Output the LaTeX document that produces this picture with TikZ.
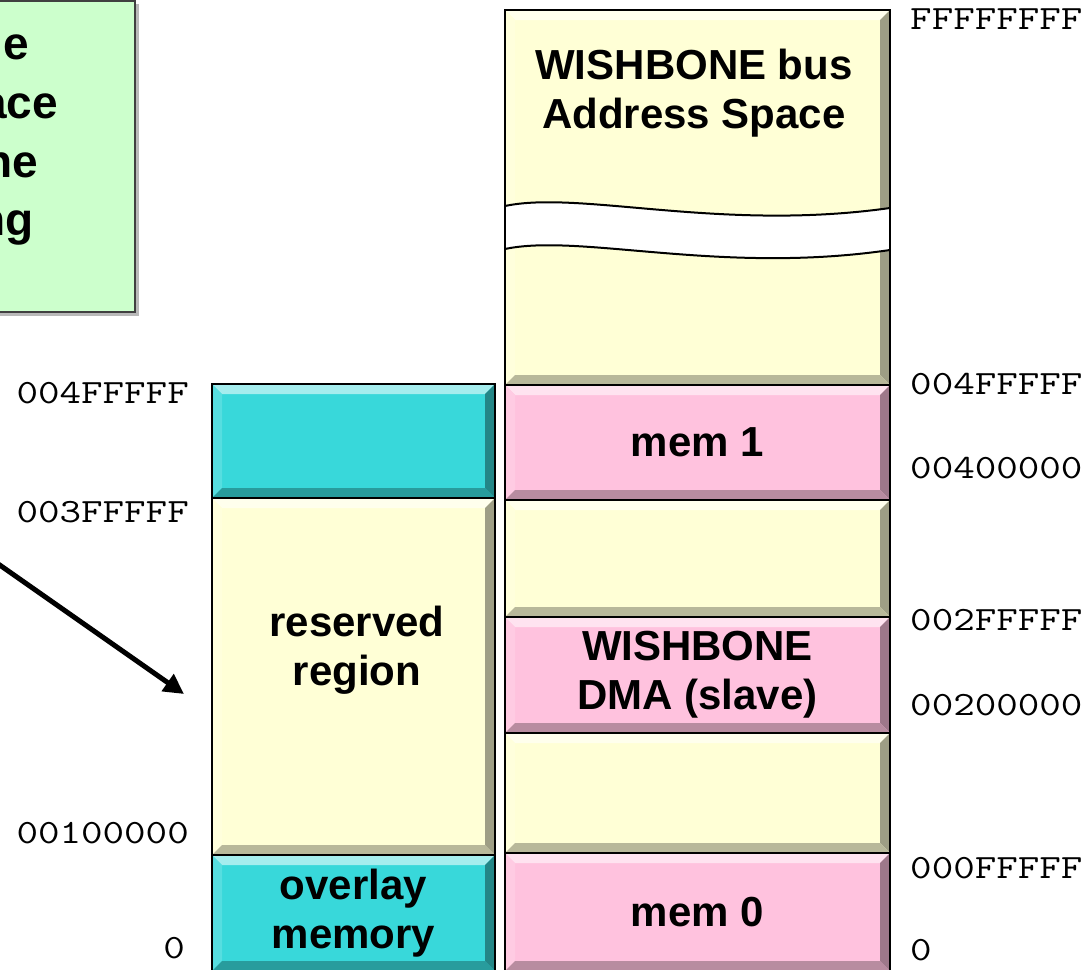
\documentclass[tikz,border=0pt]{standalone}
\usepackage{fontspec}
\usepackage{graphicx}
\setmainfont{Liberation Sans}
\usetikzlibrary{arrows.meta}

\definecolor{cream}{HTML}{FFFFD6}
\definecolor{pinkmem}{HTML}{FFC2DE}
\definecolor{cyanmem}{HTML}{38D8DA}
\definecolor{notegreen}{HTML}{CCFFCC}
\definecolor{noteedge}{HTML}{404040}

\newcommand\labelfont{\bfseries\fontsize{42}{49}\selectfont}
% typewriter address, widened to Courier proportions
\newcommand\hexaddr[1]{\scalebox{1.23}[1]{#1}}

% memory block: name, x1, y1, x2, y2, style, text
\newcommand\memblock[7]{%
  \node[#6, minimum width={(#4-#2)*1pt}, minimum height={(#5-#3)*1pt}]
    (#1) at ({(#2+#4)/2},{(#3+#5)/2}) {#7};}

\tikzset{
  block/.style={draw=black, line width=2.5pt, fill=#1, inner sep=0pt, outer sep=0pt,
    align=center, font=\labelfont,
    path picture={
      \coordinate (bNW) at (path picture bounding box.north west);
      \coordinate (bSE) at (path picture bounding box.south east);
      \coordinate (bNE) at (bNW -| bSE);
      \coordinate (bSW) at (bSE -| bNW);
      \fill[#1!45!white] (bNW) -- (bNE) -- ([shift={(-10pt,-10pt)}]bNE) -- ([shift={(10pt,-10pt)}]bNW) -- cycle;
      \fill[#1!85!white] (bNW) -- ([shift={(10pt,-10pt)}]bNW) -- ([shift={(10pt,10pt)}]bSW) -- (bSW) -- cycle;
      \fill[#1!62!black] (bNE) -- (bSE) -- ([shift={(-10pt,10pt)}]bSE) -- ([shift={(-10pt,-10pt)}]bNE) -- cycle;
      \fill[#1!72!black] (bSW) -- (bSE) -- ([shift={(-10pt,10pt)}]bSE) -- ([shift={(10pt,10pt)}]bSW) -- cycle;
    }},
  blocktext/.style={font=\labelfont, align=center, inner sep=0pt},
  addr/.style={font=\ttfamily\fontsize{34}{40}\selectfont, inner sep=0pt},
  notetext/.style={font=\bfseries\fontsize{46}{56}\selectfont, inner sep=0pt, anchor=base east},
  breakline/.style={line width=2pt},
  pointer/.style={line width=5pt, -{Triangle[length=20pt,width=20pt]}},
}

\begin{document}
\begin{tikzpicture}[x=1pt, y=-1pt]
  \useasboundingbox (0,0) rectangle (1091,969);
  \fill[white] (0,0) rectangle (1091,969);

  % note box at the upper left
  \fill[gray!55] (-20,4) rectangle (139,316);
  \node[draw=noteedge, line width=1.5pt, fill=notegreen, minimum width=155pt,
        minimum height=311pt, inner sep=0pt] (note) at (57.5,156.5) {};
  \node[notetext] (noteA) at (29,59) {e};
  \node[notetext] (noteB) at (58,118) {ace};
  \node[notetext] (noteC) at (38,177) {ne};
  \node[notetext] (noteD) at (34,235) {ng};

  % WISHBONE bus address space (right column)
  \memblock{bus}{505}{10}{890}{385}{block=cream}{}
  \fill[white] (505,206) .. controls (580,190) and (720,232) .. (890,208)
     -- (890,250) .. controls (720,275) and (580,233) .. (505,249) -- cycle;
  \draw[breakline] (505,206) .. controls (580,190) and (720,232) .. (890,208);
  \draw[breakline] (505,249) .. controls (580,233) and (720,275) .. (890,250);
  \draw[line width=2.5pt] (bus.north west) rectangle (bus.south east);
  \node[blocktext] (bustitle) at (694,93) {WISHBONE bus\\Address Space};

  \memblock{mem1}{505}{385}{890}{500}{block=pinkmem}{mem 1}
  \memblock{gapA}{505}{500}{890}{617}{block=cream}{}
  \memblock{dma}{505}{617}{890}{733}{block=pinkmem}{WISHBONE\\DMA (slave)}
  \memblock{gapB}{505}{733}{890}{853}{block=cream}{}
  \memblock{mem0}{505}{853}{890}{971}{block=pinkmem}{mem 0}

  % overlay view (left column)
  \memblock{ovtop}{212}{384}{495}{498}{block=cyanmem}{}
  \memblock{reserved}{212}{498}{495}{855}{block=cream}{}
  \node[blocktext] (restext) at (357,650) {reserved\\region};
  \memblock{overlay}{212}{855}{495}{971}{block=cyanmem}{overlay\\memory}

  % addresses
  \node[addr, anchor=west] (aR1) at (910,19)  {\hexaddr{FFFFFFFF}};
  \node[addr, anchor=west] (aR2) at (910,384) {\hexaddr{004FFFFF}};
  \node[addr, anchor=west] (aR3) at (910,468) {\hexaddr{00400000}};
  \node[addr, anchor=west] (aR4) at (910,620) {\hexaddr{002FFFFF}};
  \node[addr, anchor=west] (aR5) at (910,705) {\hexaddr{00200000}};
  \node[addr, anchor=west] (aR6) at (910,868) {\hexaddr{000FFFFF}};
  \node[addr, anchor=west] (aR7) at (910,950) {\hexaddr{0}};

  \node[addr, anchor=east] (aL1) at (189,393) {\hexaddr{004FFFFF}};
  \node[addr, anchor=east] (aL2) at (189,512) {\hexaddr{003FFFFF}};
  \node[addr, anchor=east] (aL3) at (189,833) {\hexaddr{00100000}};
  \node[addr, anchor=east] (aL4) at (185,948) {\hexaddr{0}};

  % pointer into the reserved region
  \coordinate (ptrtail) at (-6,561);
  \coordinate (ptrtip) at (184,694);
  \draw[pointer] (ptrtail) -- (ptrtip);
\end{tikzpicture}
\end{document}
